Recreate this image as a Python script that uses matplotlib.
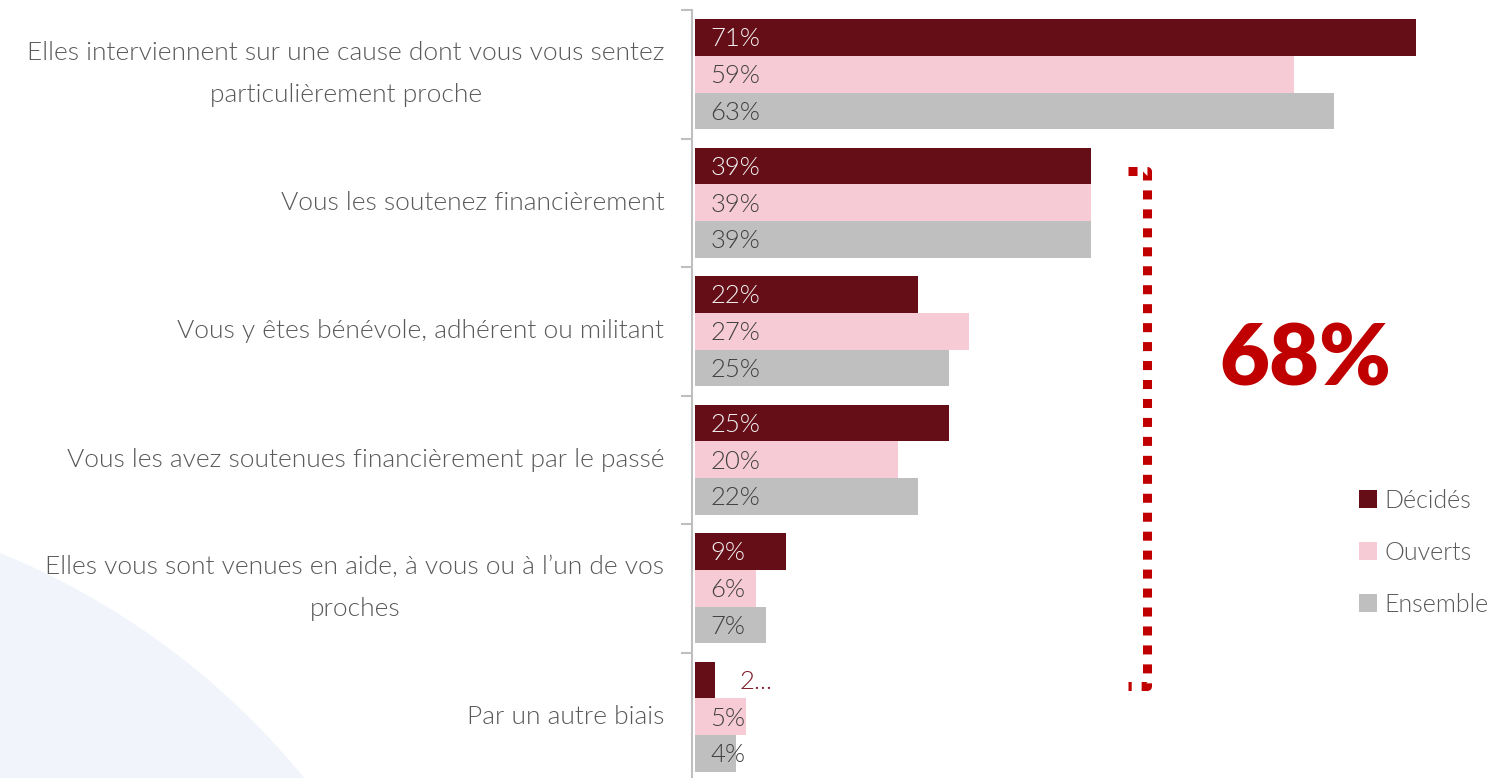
import matplotlib.pyplot as plt
from matplotlib.patches import Circle
from matplotlib.lines import Line2D

plt.rcParams['font.family'] = ['Lato', 'DejaVu Sans']

categories = [
    "Elles interviennent sur une cause dont vous vous sentez\nparticulièrement proche",
    "Vous les soutenez financièrement",
    "Vous y êtes bénévole, adhérent ou militant",
    "Vous les avez soutenues financièrement par le passé",
    "Elles vous sont venues en aide, à vous ou à l\u2019un de vos\nproches",
    "Par un autre biais",
]
series = ["Décidés", "Ouverts", "Ensemble"]
decides = [71, 39, 22, 25, 9, 2]
ouverts = [59, 39, 27, 20, 6, 5]
ensemble = [63, 39, 25, 22, 7, 4]
highlight = "68%"

colors = ["#650E17", "#F7CBD5", "#BFBFBF"]
text_colors = ["#F2F2F2", "#404040", "#404040"]

W, H = 1508, 778
fig = plt.figure(figsize=(W / 100, H / 100), dpi=100)

# background arc bottom-left
bg = fig.add_axes([0, 0, 1, 1], zorder=-1)
bg.set_xlim(0, W)
bg.set_ylim(H, 0)
bg.axis("off")
bg.add_patch(Circle((-290, 1263), 767, color="#F1F4FB", lw=0))

px = 10.15  # pixels per percent
ax = fig.add_axes([695 / W, -3 / H, (W - 695) / W, 771 / H])
ax.set_facecolor("none")
ax.set_xlim(0, (W - 695) / px)
ax.set_ylim(5.5, -0.5)

bh = 0.286
for k, vals in enumerate([decides, ouverts, ensemble]):
    ys = [i + (k - 1) * bh for i in range(len(categories))]
    ax.barh(ys, vals, height=bh, color=colors[k], label=series[k], lw=0)
    for y, v in zip(ys, vals):
        if v >= 4:
            ax.text(1.5, y + 0.015, f"{v}%", va="center", ha="left", fontsize=18.5,
                    color=text_colors[k], fontweight=300)
        else:
            ax.text(4.4, y + 0.015, f"{v}...", va="center", ha="left", fontsize=18.5,
                    color="#7B1A26", fontweight=300)

for s in ["top", "right", "bottom"]:
    ax.spines[s].set_visible(False)
ax.spines["left"].set_color("#BFBFBF")
ax.spines["left"].set_linewidth(1.5)
ax.spines["left"].set_position(("outward", 2))
ax.set_xticks([])
ax.set_yticks(range(len(categories)))
ax.set_yticklabels(categories, fontsize=19, color="#595959", fontweight=300,
                   multialignment="center", linespacing=1.95, va="center")
ax.tick_params(axis="y", which="major", length=0, pad=20)
ax.set_yticks([i - 0.5 for i in range(len(categories) + 1)], minor=True)
ax.tick_params(axis="y", which="minor", length=8, width=1.5, color="#BFBFBF")

# dotted bracket
x1, x2 = 1128 / px - 695 / px, 1147 / px - 695 / px
y1, y2 = (171 - 74) / 128.5, (686 - 74) / 128.5
ax.add_line(Line2D([x1, x2, x2, x1], [y1, y1, y2, y2], color="#C00000", lw=6.5,
                   dashes=(1, 1.1), solid_joinstyle="miter", dash_capstyle="butt",
                   clip_on=False))
ax.text((1305 - 695) / px, (360 - 74) / 128.5, highlight, ha="center", va="center",
        fontsize=62, fontweight="heavy", color="#C00000")

ax.legend(loc="upper left", bbox_to_anchor=(1346 / W, 1 - 476 / H),
          bbox_transform=fig.transFigure, frameon=False, borderpad=0,
          handlelength=0.75, handleheight=0.75, handletextpad=0.3,
          labelspacing=1.13, labelcolor="#595959",
          prop={"weight": 300, "size": 18})

fig.savefig("out.png", dpi=100)
